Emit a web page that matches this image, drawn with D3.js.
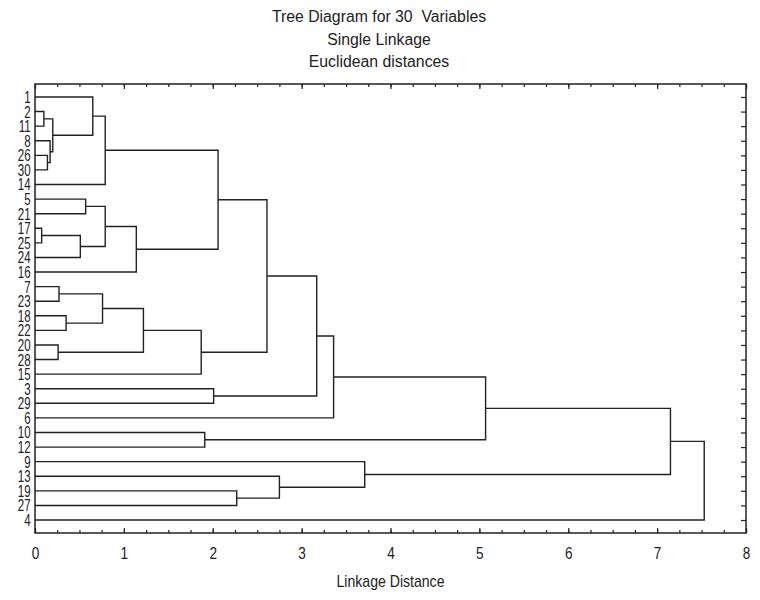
<!DOCTYPE html>
<html>
<head>
<meta charset="utf-8">
<script src="https://cdn.jsdelivr.net/npm/d3@7"></script>
<style>
  body { margin: 0; background: #fff; }
  svg { display: block; }
  text { font-family: "Liberation Sans", Arial, sans-serif; fill: #222; }
  .title { font-size: 15.8px; white-space: pre; }
</style>
</head>
<body>
<div id="chart"></div>
<script>
//leaf order, top to bottom, as the tree diagram prints them
var leaves = ["1","2","11","8","26","30","14","5","21","17","25","24","16","7","23",
              "18","22","20","28","15","3","29","6","10","12","9","13","19","27","4"];

//each merge joins two items at a linkage distance
//a plain number is a leaf, "mN" points to the Nth merge in this list
var mergeLeft  = ["2","26","8","m0","1","m4","5","17","m7","m6","m9","m5","7","18","m12",
                  "20","m14","m16","m11","3","m18","m20","10","m21","19","13","9","m23","m27"];
var mergeRight = ["11","30","m1","m2","m3","14","21","25","24","m8","16","m10","23","22","m13",
                  "28","m15","15","m17","29","m19","6","12","m22","27","m24","m25","m26","4"];
var mergeDist  = [0.10,0.14,0.17,0.20,0.65,0.79,0.57,0.075,0.51,0.79,1.14,2.06,0.27,0.35,0.76,
                  0.26,1.22,1.87,2.61,2.01,3.17,3.36,1.91,5.07,2.27,2.75,3.71,7.15,7.53];

var xTicks = [0,1,2,3,4,5,6,7,8];
var titleLines = ["Tree Diagram for 30  Variables", "Single Linkage", "Euclidean distances"];
var xLabel = "Linkage Distance";

var width = 760, height = 600;
//careful: "top" is taken by window.top, so the frame edges get their own names
var plotL = 35, plotR = 746, plotT = 84, plotB = 533;
var ink = "#222";

var svg = d3.select("#chart").append("svg")
    .attr("width", width)
    .attr("height", height);

var x = d3.scaleLinear().domain([0, 8]).range([plotL, plotR]);
var y = d3.scalePoint().domain(leaves).range([plotT, plotB]).padding(0.89);

//titles
svg.selectAll("text.title")
    .data(titleLines)
    .enter().append("text")
    .attr("class", "title")
    .attr("x", 379)
    .attr("y", function(d, i) { return 22 + i * 22.5; })
    .attr("text-anchor", "middle")
    .text(function(d) { return d; });

//work out where every node sits: leaves at their row, merges halfway between children
var nodes = {};
leaves.forEach(function(l) { nodes[l] = { y: y(l), h: 0 }; });

var links = [];
mergeDist.forEach(function(h, i) {
    var a = nodes[mergeLeft[i]], b = nodes[mergeRight[i]];
    links.push({ a: a, b: b, h: h });
    nodes["m" + i] = { y: (a.y + b.y) / 2, h: h };
});

svg.append("g")
    .selectAll("path")
    .data(links)
    .enter().append("path")
    .attr("fill", "none")
    .attr("stroke", ink)
    .attr("stroke-width", 1.4)
    .attr("d", function(d) {
        return "M" + x(d.a.h) + "," + d.a.y +
               "H" + x(d.h) +
               "V" + d.b.y +
               "H" + x(d.b.h);
    });

//axes - ticks point inward like the original
var minor = d3.range(0, 8.001, 0.25);

var bottomMinor = svg.append("g")
    .attr("transform", "translate(0," + plotB + ")")
    .call(d3.axisBottom(x).tickValues(minor).tickSize(-3).tickFormat(""));
var bottomMajor = svg.append("g")
    .attr("transform", "translate(0," + plotB + ")")
    .call(d3.axisBottom(x).tickValues(xTicks).tickSize(-5).tickPadding(14).tickFormat(d3.format("d")));
var topMinor = svg.append("g")
    .attr("transform", "translate(0," + plotT + ")")
    .call(d3.axisTop(x).tickValues(minor).tickSize(-3).tickFormat(""));
var topMajor = svg.append("g")
    .attr("transform", "translate(0," + plotT + ")")
    .call(d3.axisTop(x).tickValues(xTicks).tickSize(-5).tickFormat(""));
var rightAxis = svg.append("g")
    .attr("transform", "translate(" + plotR + ",0)")
    .call(d3.axisLeft(y).tickSize(5).tickFormat(""));
var leftAxis = svg.append("g")
    .attr("transform", "translate(" + plotL + ",0)")
    .call(d3.axisLeft(y).tickSize(0).tickPadding(6));

[bottomMinor, bottomMajor, topMinor, topMajor, rightAxis, leftAxis].forEach(function(g) {
    g.select(".domain").remove();
    g.selectAll(".tick line").attr("stroke", ink).attr("stroke-width", 1.2);
    g.attr("font-family", null).attr("font-size", null);
});

//the original uses a condensed face, so squeeze the glyphs sideways
bottomMajor.selectAll("text")
    .attr("fill", ink)
    .style("font-size", "17px")
    .attr("transform", "scale(0.8,1)");
leftAxis.selectAll("text")
    .attr("fill", ink)
    .style("font-size", "16px")
    .attr("dy", "0.34em")
    .attr("transform", "scale(0.72,1)");

//frame
svg.append("rect")
    .attr("x", plotL)
    .attr("y", plotT)
    .attr("width", plotR - plotL)
    .attr("height", plotB - plotT)
    .attr("fill", "none")
    .attr("stroke", ink)
    .attr("stroke-width", 1.5);

svg.append("text")
    .attr("x", (plotL + plotR) / 2)
    .attr("y", 587)
    .attr("text-anchor", "middle")
    .style("font-size", "16px")
    .attr("transform", "translate(" + ((plotL + plotR) / 2) * 0.12 + ",0) scale(0.88,1)")
    .text(xLabel);
</script>
</body>
</html>
